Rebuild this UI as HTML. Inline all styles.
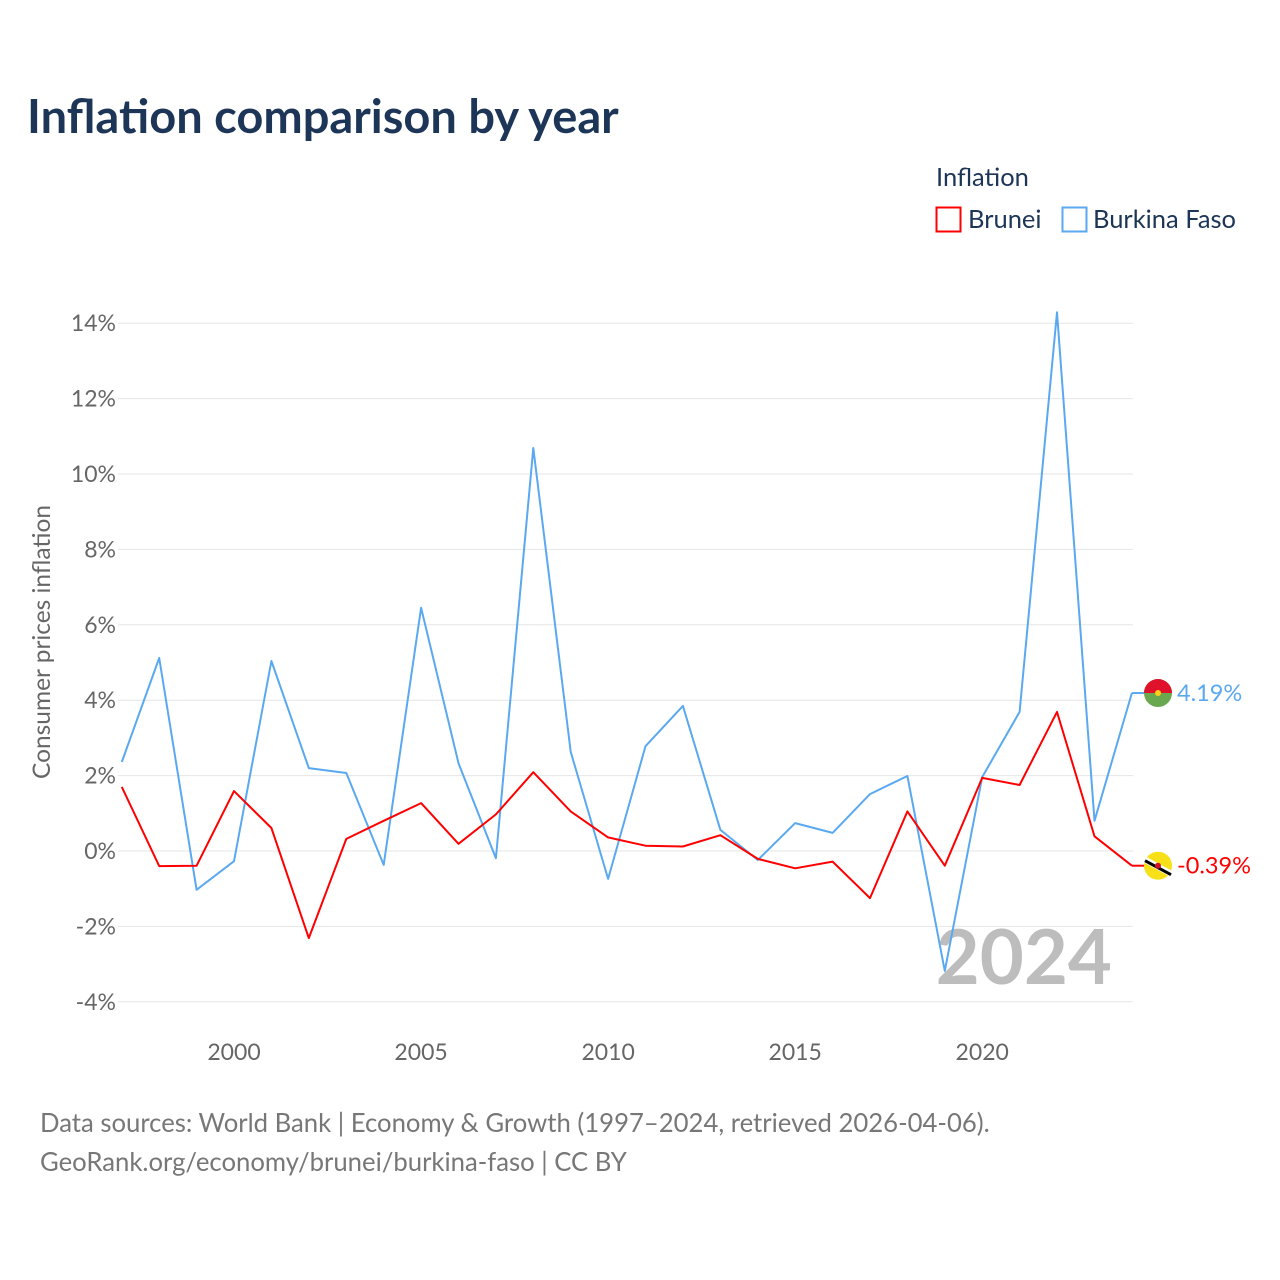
<!DOCTYPE html>
<html><head><meta charset="utf-8">
<style>
body{margin:0;background:#fff;}
svg{display:block;font-family:"Lato","Liberation Sans",sans-serif;}
</style></head>
<body>
<svg id="chart" width="1280" height="1280" viewBox="0 0 1280 1280">
<text x="27" y="133" font-size="47" font-weight="bold" fill="#1d3557">Inflation comparison by year</text>
<text x="936" y="186" font-size="25.5" fill="#1d3557">Inflation</text>
<g>
<rect x="936.5" y="207.5" width="24" height="24" fill="#fff" stroke="#ff0000" stroke-width="2"/>
<text x="968" y="228" font-size="25.5" fill="#1d3557">Brunei</text></g>
<g>
<rect x="1062.5" y="207.5" width="24" height="24" fill="#fff" stroke="#5aa9f0" stroke-width="2"/>
<text x="1093" y="228" font-size="25.5" fill="#1d3557">Burkina Faso</text></g>
<g id="grid"></g><g id="yt"></g><g id="xt"></g>
<text transform="translate(50,642) rotate(-90)" text-anchor="middle" font-size="24.5" fill="#666">Consumer prices inflation</text>
<text x="1112" y="984" text-anchor="end" font-size="76" font-weight="bold" fill="#bdbdbd">2024</text>
<g id="series"></g>
<text x="40" y="1132" font-size="25.7" fill="#777">Data sources: World Bank | Economy &amp; Growth (1997–2024, retrieved 2026-04-06).</text>
<text x="40" y="1171" font-size="25.7" fill="#777">GeoRank.org/economy/brunei/burkina-faso | CC BY</text>
</svg>
<script>
const years=[1997,1998,1999,2000,2001,2002,2003,2004,2005,2006,2007,2008,2009,2010,2011,2012,2013,2014,2015,2016,2017,2018,2019,2020,2021,2022,2023,2024];
const burkina=[2.36,5.12,-1.03,-0.27,5.04,2.20,2.07,-0.37,6.45,2.33,-0.19,10.69,2.63,-0.74,2.78,3.85,0.56,-0.24,0.74,0.48,1.51,1.99,-3.18,1.96,3.69,14.29,0.80,4.19];
const brunei=[1.70,-0.40,-0.39,1.59,0.61,-2.31,0.32,0.80,1.27,0.19,0.97,2.09,1.05,0.36,0.14,0.12,0.42,-0.21,-0.46,-0.28,-1.25,1.05,-0.39,1.94,1.75,3.69,0.39,-0.39];
const yTicks=[-4,-2,0,2,4,6,8,10,12,14];
const xTicks=[2000,2005,2010,2015,2020];
const NS="http://www.w3.org/2000/svg";
const X=y=>121.8+(y-1997)*37.41;
const Y=v=>851-v*37.7;
function mk(tag,attrs,parent){const e=document.createElementNS(NS,tag);for(const k in attrs)e.setAttribute(k,attrs[k]);parent.appendChild(e);return e;}
const grid=document.getElementById('grid'),yt=document.getElementById('yt'),xt=document.getElementById('xt'),ser=document.getElementById('series');
yTicks.forEach(v=>{
 const l=mk('line',{x1:118,x2:1133,y1:Y(v),y2:Y(v),stroke:'#e6e6e6','stroke-width':1},grid);
 
 
 const t=mk('text',{x:116,y:Y(v)+8,'text-anchor':'end','font-size':23,fill:'#666'},yt);
 t.textContent=v+'%';
 
 
});
xTicks.forEach(y=>{
 const t=mk('text',{x:X(y),y:1060,'text-anchor':'middle','font-size':23,fill:'#666'},xt);
 t.textContent=y;
 
 
});
function line(vals,color,name){
 const d=vals.map((v,i)=>(i?'L':'M')+X(years[i]).toFixed(1)+','+Y(v).toFixed(1)).join('');
 const p=mk('path',{d:d,fill:'none',stroke:color,'stroke-width':2,'stroke-linejoin':'round'},ser);
 
 
 const last=vals[vals.length-1];
 mk('line',{x1:X(2024),x2:1145,y1:Y(last),y2:Y(last),stroke:color,'stroke-width':2},ser);
 return last;
}
const lb=line(burkina,'#5aa9f0','burkina-faso-line');
const lr=line(brunei,'#ff0000','brunei-line');
const fb=mk('g',{},ser);


mk('circle',{cx:1158,cy:Y(lb),r:14,fill:'#6aa84f'},fb);
mk('path',{d:`M1144,${Y(lb)} A14,14 0 0 1 1172,${Y(lb)} Z`,fill:'#e0112b'},fb);
mk('circle',{cx:1158,cy:Y(lb),r:3,fill:'#fcd116'},fb);
const tb=mk('text',{x:1177,y:Y(lb)+8,'font-size':23.5,fill:'#5aa9f0'},ser);
tb.textContent=lb.toFixed(2)+'%';


const fr=mk('g',{},ser);


mk('circle',{cx:1158,cy:Y(lr),r:14,fill:'#f7e017'},fr);
mk('line',{x1:1145,y1:Y(lr)-6,x2:1171,y2:Y(lr)+8,stroke:'#fff','stroke-width':6},fr);
mk('line',{x1:1145,y1:Y(lr)-5,x2:1171,y2:Y(lr)+9,stroke:'#000','stroke-width':3},fr);
mk('circle',{cx:1158,cy:Y(lr),r:3,fill:'#cf1126'},fr);
const tr=mk('text',{x:1177,y:Y(lr)+8,'font-size':23.5,fill:'#ff0000'},ser);
tr.textContent=lr.toFixed(2)+'%';


</script>
</body></html>
